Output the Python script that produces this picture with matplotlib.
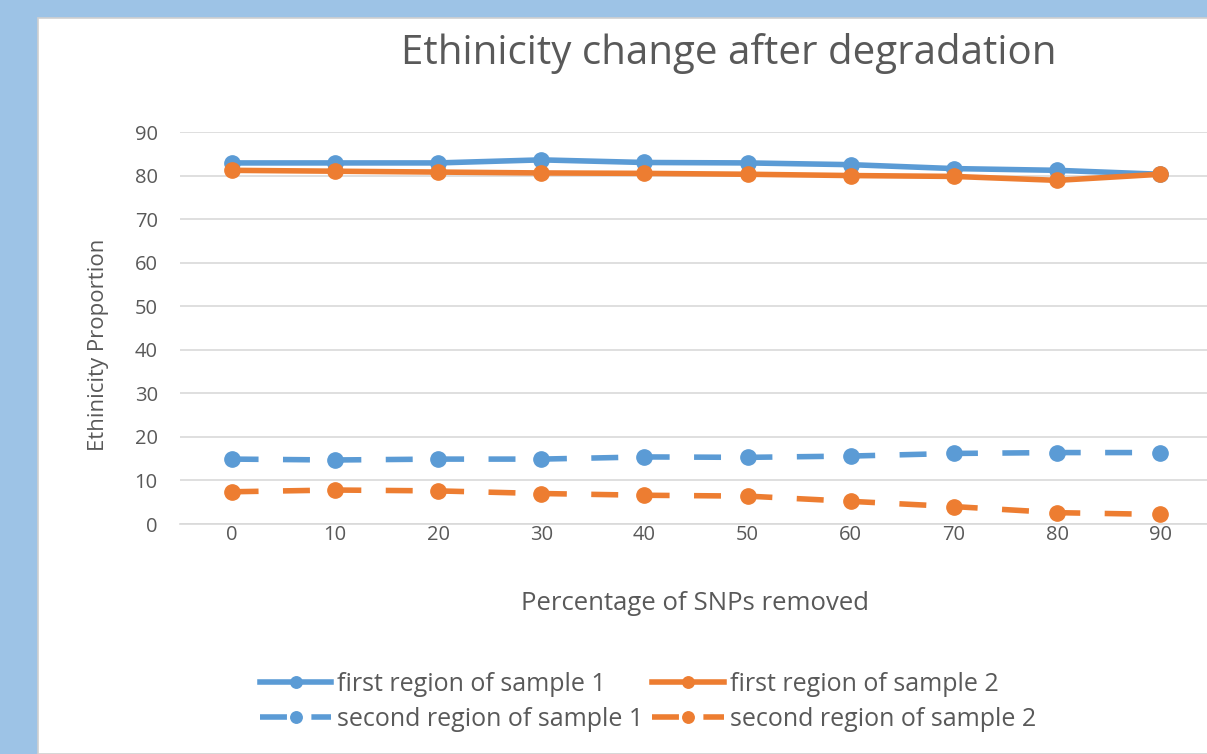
import matplotlib
matplotlib.use("Agg")
import matplotlib.pyplot as plt
from matplotlib.patches import Rectangle

plt.rcParams['font.family'] = ['Open Sans', 'DejaVu Sans']

categories = ["0", "10", "20", "30", "40", "50", "60", "70", "80", "90"]
first_s1 = [82.9, 82.9, 82.9, 83.6, 83.0, 82.9, 82.5, 81.6, 81.2, 80.3]
first_s2 = [81.2, 81.0, 80.8, 80.6, 80.5, 80.3, 80.0, 79.8, 78.9, 80.3]
second_s1 = [14.9, 14.7, 14.9, 14.9, 15.4, 15.3, 15.6, 16.2, 16.4, 16.4]
second_s2 = [7.4, 7.8, 7.6, 7.0, 6.6, 6.4, 5.2, 4.0, 2.6, 2.2]
series_names = ["first region of sample 1", "first region of sample 2",
                "second region of sample 1", "second region of sample 2"]

BLUE = "#5B9BD5"
ORANGE = "#ED7D31"
GRAY = "#595959"

W, H = 1207, 754
fig = plt.figure(figsize=(W / 100, H / 100), dpi=100)
fig.patch.set_facecolor("#9DC3E6")
bg = Rectangle((38 / W, 0), 1.0, 1 - 18 / H, transform=fig.transFigure,
               facecolor="white", edgecolor="#D0D0D0", linewidth=1.2, zorder=-5)
fig.patches.append(bg)

left, right = 180 / W, 1212 / W
bottom, top = 1 - 524 / H, 1 - 132 / H
ax = fig.add_axes([left, bottom, right - left, top - bottom])
ax.set_zorder(2)
ax.patch.set_alpha(0)

x = list(range(len(categories)))
lw = 4.0
ms = 11
dash = (4.85, 4.4)
l1, = ax.plot(x, first_s1, color=BLUE, lw=lw, marker="o", ms=ms, label=series_names[0], zorder=3)
l2, = ax.plot(x, first_s2, color=ORANGE, lw=lw, marker="o", ms=ms, label=series_names[1], zorder=4)
l3, = ax.plot(x, second_s1, color=BLUE, lw=lw, marker="o", ms=ms, label=series_names[2],
              dashes=dash, dash_capstyle="butt", zorder=3)
l4, = ax.plot(x, second_s2, color=ORANGE, lw=lw, marker="o", ms=ms, label=series_names[3],
              dashes=dash, dash_capstyle="butt", zorder=3)

ax.set_xlim(-0.5, len(categories) - 0.5)
ax.set_ylim(0, 90)
ax.set_yticks(range(0, 91, 10))
ax.set_xticks(x)
ax.set_xticklabels(categories)
ax.yaxis.grid(True, color="#D9D9D9", lw=1.2)
ax.set_axisbelow(True)
for s in ["top", "right", "left"]:
    ax.spines[s].set_visible(False)
ax.spines["bottom"].set_color("#D9D9D9")
ax.spines["bottom"].set_linewidth(1.2)
ax.tick_params(axis="both", length=0, colors=GRAY, labelsize=14.5)
ax.tick_params(axis="y", pad=16)
ax.tick_params(axis="x", pad=1)

ax.set_xlabel("Percentage of SNPs removed", fontsize=18.5, color=GRAY)
ax.xaxis.label.set_va("center")
ax.xaxis.set_label_coords(0.5 - (697 - 696) / 1032, (524 - 604) / 392)
ax.set_ylabel("Ethinicity Proportion", fontsize=16, color=GRAY)
ax.yaxis.label.set_va("center")
ax.yaxis.set_label_coords((98 - 180) / 1032, (524 - 345) / 392)

fig.text(729 / W, 1 - 54 / H, "Ethinicity change after degradation", ha="center", va="center",
         fontsize=29, color=GRAY)

fig.legend(handles=[l1, l3, l2, l4], loc="center", bbox_to_anchor=(648 / W, 1 - 702 / H),
           ncol=2, frameon=False, fontsize=18, labelcolor=GRAY, handlelength=2.85,
           handletextpad=0.25, columnspacing=0.35, labelspacing=0.4, markerscale=0.75)

fig.savefig("out.png", dpi=100, facecolor=fig.get_facecolor())
